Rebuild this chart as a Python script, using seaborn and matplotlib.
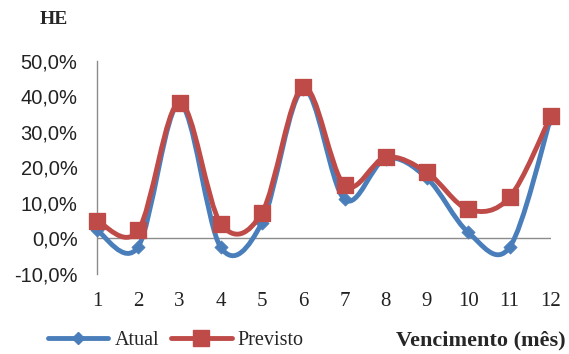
import matplotlib
matplotlib.use("Agg")
import matplotlib.pyplot as plt
import seaborn as sns
import numpy as np
import pandas as pd
from matplotlib.path import Path
from matplotlib.patches import PathPatch
from matplotlib.lines import Line2D
from matplotlib.ticker import FuncFormatter

meses = [1, 2, 3, 4, 5, 6, 7, 8, 9, 10, 11, 12]
atual = [2.3, -2.3, 38.0, -2.5, 4.5, 42.0, 11.0, 22.5, 17.0, 1.7, -2.5, 34.0]
previsto = [5.0, 2.3, 38.3, 4.2, 7.3, 42.6, 15.0, 22.9, 18.6, 8.2, 11.6, 34.5]
y_ticks = [-10, 0, 10, 20, 30, 40, 50]

BLUE = "#4a7ebb"
RED = "#be4b48"

sns.set_theme(style="white")
plt.rcParams["font.family"] = ["Liberation Serif", "DejaVu Serif"]

fig = plt.figure(figsize=(5.69, 3.54), dpi=100)
ax = fig.add_axes([0.1705, 0.226, 0.7975, 0.6017])


def smooth_path(xs, ys):
    """Cubic Bezier path through the points (Catmull-Rom style tangents)."""
    pts = np.column_stack([xs, ys]).astype(float)
    n = len(pts)
    verts = [pts[0]]
    codes = [Path.MOVETO]
    for i in range(n - 1):
        p0 = pts[i - 1] if i > 0 else pts[i]
        p1 = pts[i]
        p2 = pts[i + 1]
        p3 = pts[i + 2] if i + 2 < n else pts[i + 1]
        c1 = p1 + (p2 - p0) / 6.0
        c2 = p2 - (p3 - p1) / 6.0
        verts += [c1, c2, p2]
        codes += [Path.CURVE4] * 3
    return Path(verts, codes)


df = pd.DataFrame({"mes": meses, "Atual": atual, "Previsto": previsto})

ax.axhline(0, color="#8c8c8c", lw=1.0, zorder=1)

ax.add_patch(PathPatch(smooth_path(meses, atual), fill=False, ec=BLUE,
                       lw=3.5, zorder=2, capstyle="round", joinstyle="round"))
sns.scatterplot(data=df, x="mes", y="Atual", ax=ax, marker="D", s=45,
                color=BLUE, edgecolor=BLUE, zorder=3, clip_on=False,
                legend=False)
ax.add_patch(PathPatch(smooth_path(meses, previsto), fill=False, ec=RED,
                       lw=3.5, zorder=4, capstyle="round", joinstyle="round"))
sns.scatterplot(data=df, x="mes", y="Previsto", ax=ax, marker="s", s=140,
                color=RED, edgecolor=RED, zorder=5, clip_on=False,
                legend=False)

ax.set_xlim(1, 12)
ax.set_ylim(-10, 50)
ax.set_xticks(meses)
ax.set_yticks(y_ticks)
ax.yaxis.set_major_formatter(FuncFormatter(lambda v, p: f"{v:.1f}%".replace(".", ",")))
ax.tick_params(axis="x", labelsize=15, pad=13, length=0)
ax.tick_params(axis="y", labelsize=14.5, pad=14, length=0)
for lab in ax.get_yticklabels():
    lab.set_fontfamily(["Liberation Sans", "DejaVu Sans"])
    lab.set_color("#222222")
for lab in ax.get_xticklabels():
    lab.set_color("#222222")

ax.set_xlabel("")
ax.set_ylabel("")
for side in ["top", "right", "bottom"]:
    ax.spines[side].set_visible(False)
ax.spines["left"].set_color("#8c8c8c")
ax.spines["left"].set_linewidth(1.0)

fig.text(54 / 569, 1 - 20 / 354, "HE", fontsize=14, fontweight="bold",
         ha="center", va="center")
fig.text(566 / 569, 1 - 340 / 354, "Vencimento (mês)", fontsize=16,
         fontweight="bold", ha="right", va="center")

handles = [
    Line2D([], [], color=BLUE, lw=3.5, marker="D", markersize=6.5),
    Line2D([], [], color=RED, lw=3.5, marker="s", markersize=11),
]
fig.legend(handles, ["Atual", "Previsto"], loc="center left",
           bbox_to_anchor=(48 / 569, 1 - 340 / 354), ncol=2, frameon=False,
           fontsize=14.5, handlelength=3.0, handletextpad=0.3,
           columnspacing=0.6, borderaxespad=0, borderpad=0)

fig.savefig("out.png", dpi=100)
